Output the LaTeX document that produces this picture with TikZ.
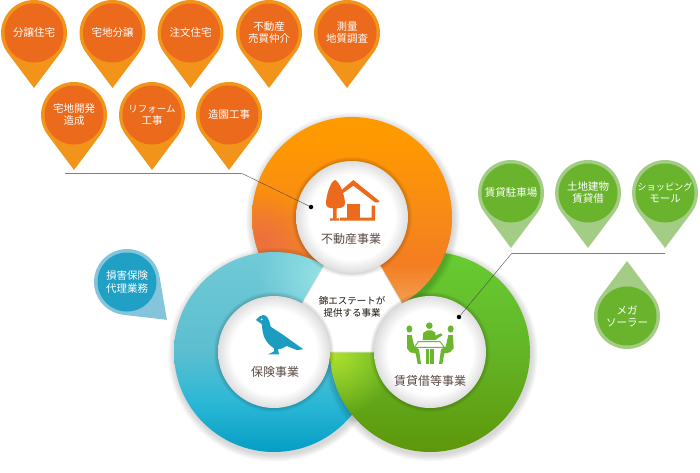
\documentclass[tikz,border=0pt]{standalone}
\usepackage{fontspec}
\setmainfont{Noto Sans CJK JP}
\usetikzlibrary{fadings}
\definecolor{pinorange}{HTML}{EB6A1C}
\definecolor{rimorange}{HTML}{F29419}
\definecolor{pingreen}{HTML}{69B42C}
\definecolor{rimgreen}{HTML}{A3CC85}
\definecolor{pinblue}{HTML}{1FA0C4}
\definecolor{rimblue}{HTML}{85C5DC}
\definecolor{hubtext}{HTML}{5A4A44}
\definecolor{birdblue}{HTML}{1C9CC0}
\definecolor{iconorange}{HTML}{EB6A1C}
\definecolor{icongreen}{HTML}{6CB62E}
\definecolor{paleblue}{HTML}{96E2E6}
\definecolor{limegreen}{HTML}{AEE02E}
\definecolor{redorange}{HTML}{EC7040}
% stops run from 25bp (foot of the shape) to 75bp (its top)
\pgfdeclareverticalshading{orangering}{100bp}{rgb(0bp)=(.925,.43,.22); rgb(25bp)=(.925,.43,.22); rgb(37.5bp)=(.94,.48,.2); rgb(50bp)=(.97,.54,.09); rgb(70bp)=(1,.6,0); rgb(100bp)=(1,.6,0)}
\pgfdeclareverticalshading{orangetip}{100bp}{rgb(0bp)=(.95,.66,.38); rgb(25bp)=(.95,.66,.38); rgb(52bp)=(.955,.49,.13); rgb(75bp)=(.97,.54,.09); rgb(100bp)=(.97,.54,.09)}
\pgfdeclareverticalshading{bluering}{100bp}{rgb(0bp)=(.02,.62,.77); rgb(25bp)=(.02,.62,.77); rgb(37.5bp)=(.17,.72,.84); rgb(50bp)=(.36,.745,.815); rgb(75bp)=(.44,.79,.84); rgb(100bp)=(.44,.79,.84)}
\pgfdeclareverticalshading{greenring}{100bp}{rgb(0bp)=(.37,.59,.04); rgb(25bp)=(.37,.59,.04); rgb(50bp)=(.39,.71,.15); rgb(75bp)=(.4,.8,.2); rgb(100bp)=(.4,.8,.2)}
\pgfdeclareradialshading{hubglow}{\pgfpoint{0bp}{0bp}}{rgb(0bp)=(1,1,1); rgb(19bp)=(1,1,1); rgb(25bp)=(.87,.87,.87); rgb(50bp)=(.87,.87,.87)}
\tikzfading[name=softspot, inner color=transparent!0, outer color=transparent!100]
\tikzset{
  orangerim/.style={fill=rimorange},
  orangecore/.style={circle, fill=pinorange, minimum size=59pt, inner sep=0pt, text=white, align=center, font=\fontsize{10.5}{12}\selectfont},
  greenrim/.style={fill=rimgreen},
  greencore/.style={circle, fill=pingreen, minimum size=59pt, inner sep=0pt, text=white, align=center, font=\fontsize{10.5}{12}\selectfont},
  bluerim/.style={fill=rimblue},
  bluecore/.style={circle, fill=pinblue, minimum size=59pt, inner sep=0pt, text=white, align=center, font=\fontsize{10.5}{13}\selectfont},
  hub/.style={circle, shading=hubglow, minimum size=112pt, inner sep=0pt},
  hublabel/.style={text=hubtext, inner sep=0pt, font=\fontsize{12}{14}\selectfont},
  leader/.style={draw=black!50, line width=.7pt},
  leaderthin/.style={draw=black!70, line width=.4pt},
  leaderdot/.style={circle, fill=black, minimum size=4.5pt, inner sep=0pt},
}
% style, name, position, tip angle, text
\newcommand{\mappin}[5]{
  \begin{scope}[shift={#3}]
    \fill[#1rim, rotate=#4] (0:55) -- (53.13:33) arc[start angle=53.13, end angle=306.87, radius=33] -- cycle;
    \node[#1core] (#2) at (0,0) {#5};
  \end{scope}
}
% centre, radius: soft shadow under a ring
\newcommand{\softshadow}[2]{
  \foreach \grow in {1,...,7}
    \fill[black, opacity=.022] #1 ++(1,-2.5) circle[radius=#2+\grow];
}
\begin{document}
\begin{tikzpicture}[x=1pt, y=1pt]
\useasboundingbox (0,0) rectangle (700,472);

% rings
\softshadow{(352,255)}{100}
\shade[shading=orangering] (352,255) circle[radius=100];
\begin{scope}
  \clip (352,255) circle[radius=100];
  \fill[redorange, path fading=softspot] (262,232) circle[radius=48];
\end{scope}
\softshadow{(274,120)}{100}
\shade[shading=bluering] (274,120) circle[radius=100];
\begin{scope}
  \clip (274,120) circle[radius=100];
  \fill[paleblue, path fading=softspot] (322,195) circle[radius=65];
\end{scope}
\softshadow{(430,120)}{100}
\shade[shading=greenring] (430,120) circle[radius=100];
\begin{scope}
  \clip (430,120) circle[radius=100];
  \fill[limegreen, path fading=softspot] (335,118) circle[radius=62];
\end{scope}
\begin{scope}
  \clip (352,155) rectangle (470,255);
  \begin{scope}
    \clip (430,120) circle[radius=100];
    \softshadow{(352,255)}{100}
  \end{scope}
  \clip (352,255) circle[radius=100];
  \shade[shading=orangetip] (352,155) rectangle (470,255);
\end{scope}

% middle
\fill[white, draw=black!12, line width=.6pt] (352,255) -- (274,120) -- (430,120) -- cycle;
\node[align=center, text=black!85!brown, inner sep=0pt, font=\fontsize{9.5}{11.5}\selectfont] (middlelabel) at (352,165) {錦エステートが\\提供する事業};

% hubs
\foreach \hubcentre in {(352,255),(274,120),(430,120)}
  \foreach \grow in {1,...,4}
    \fill[black, opacity=.04] \hubcentre circle[radius=56+\grow];
\node[hub] (estatehub) at (352,255) {};
\node[hub] (insurehub) at (274,120) {};
\node[hub] (rentalhub) at (430,120) {};
\node[hublabel] (estatelabel) at (351,233) {不動産事業};
\node[hublabel] (insurelabel) at (275,100) {保険事業};
\node[hublabel] (rentallabel) at (430,91) {賃貸借等事業};

% house and tree
\begin{scope}[shift={(320,297)}, xscale=.3333, yscale=-.3333, iconorange]
  \fill (45,15) .. controls (60,20) and (75,65) .. (75,85) .. controls (75,95) and (65,100) .. (50,100) -- (50,130) -- (58,130) -- (58,137) -- (30,137) -- (30,130) -- (39,130) -- (39,100) .. controls (25,100) and (18,95) .. (18,85) .. controls (18,65) and (30,20) .. (45,15) -- cycle;
  \fill (65,45) -- (100,15) -- (178,78) -- (178,82) -- (165,82) -- (100,32) -- (68,55) -- cycle;
  \fill (80,88) rectangle (120,130);
  \fill (60,128) -- (155,128) -- (155,92) -- (165,92) -- (165,137) -- (60,137) -- cycle;
\end{scope}

% bird
\begin{scope}[shift={(250,162)}, xscale=.3333, yscale=-.3333, birdblue]
  \fill (18,30) .. controls (25,22) and (32,15) .. (40,15) .. controls (52,15) and (58,30) .. (62,50) -- (100,75) -- (160,118) -- (140,120) -- (110,108) .. controls (102,115) and (92,117) .. (84,118) -- (87,133) -- (55,133) -- (72,124) -- (72,115) .. controls (55,105) and (40,85) .. (38,65) -- (35,42) -- cycle;
\end{scope}
\fill[white] (261.7,152.7) circle[radius=1];

% people round a table
\begin{scope}[shift={(395,157)}, xscale=.3333, yscale=-.3333, icongreen]
  \fill (103,32) circle[radius=10];
  \fill (43,42) ellipse[x radius=9, y radius=11];
  \fill (167,42) ellipse[x radius=9, y radius=11];
  \fill (83,75) -- (85,53) -- (97,46) -- (110,46) -- (120,52) -- (122,62) -- (137,55) -- (143,60) -- (125,72) -- (122,75) -- cycle;
  \fill (36,60) -- (50,60) -- (58,95) -- (72,103) -- (78,147) -- (68,147) -- (62,115) -- (45,112) -- (36,100) -- cycle;
  \fill (174,60) -- (160,60) -- (152,95) -- (138,103) -- (132,147) -- (142,147) -- (148,115) -- (165,112) -- (176,100) -- cycle;
  \draw[line width=.9pt] (70,80) -- (135,80) -- (148,97) -- (58,97) -- cycle;
  \fill (92,103) rectangle (102,147);
  \fill (106,103) rectangle (116,147);
\end{scope}

% pins
\mappin{orange}{sale}{(34,439)}{-90}{分譲住宅}
\mappin{orange}{lots}{(112.5,439)}{-90}{宅地分譲}
\mappin{orange}{custom}{(190.5,439)}{-90}{注文住宅}
\mappin{orange}{broker}{(269,439)}{-90}{不動産\\売買仲介}
\mappin{orange}{survey}{(347,439)}{-90}{測量\\地質調査}
\mappin{orange}{develop}{(74,357)}{-90}{宅地開発\\造成}
\mappin{orange}{reform}{(152,357)}{-90}{{\fontsize{9.5}{12}\selectfont リフォーム}\\工事}
\mappin{orange}{garden}{(229,357)}{-90}{造園工事}
\mappin{green}{parking}{(511,279)}{-90}{賃貸駐車場}
\mappin{green}{landlease}{(588,279)}{-90}{土地建物\\賃貸借}
\mappin{green}{mall}{(665,279)}{-90}{{\fontsize{9.2}{12}\selectfont ショッピング}\\モール}
\mappin{green}{solar}{(627,156)}{90}{メガ\\ソーラー}
\mappin{blue}{damage}{(127,190)}{-43.5}{損害保険\\代理業務}

% leaders
\coordinate (estateend) at (65,299);
\coordinate (estatebend) at (241,299);
\node[leaderdot] (estatedot) at (311,265) {};
\draw[leader] (estateend) -- (estatebend);
\draw[leaderthin] (estatebend) -- (estatedot);
\coordinate (rentalend) at (665,219);
\coordinate (rentalbend) at (512,219);
\node[leaderdot] (rentaldot) at (459,155) {};
\draw[leader] (rentalend) -- (rentalbend);
\draw[leaderthin] (rentalbend) -- (rentaldot);
\end{tikzpicture}
\end{document}
